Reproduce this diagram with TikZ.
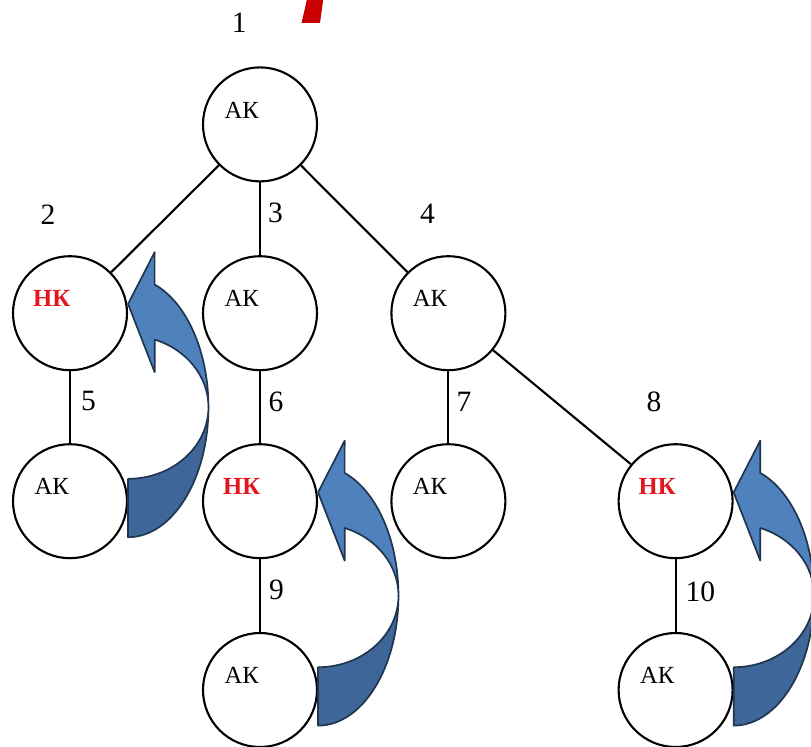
\documentclass[tikz,border=0pt]{standalone}
\usepackage{fontspec}
\setmainfont{Liberation Serif}
\usetikzlibrary{calc, positioning}
\definecolor{akblue}{HTML}{4F81BD}
\definecolor{akdark}{HTML}{3F6698}
\definecolor{akline}{HTML}{1F3550}
\definecolor{nkred}{HTML}{E3161E}
\definecolor{titlered}{HTML}{C80000}
\tikzstyle{kv}=[circle, draw, line width=1.5pt, minimum size=2.85cm, inner sep=0pt]
\tikzstyle{ak}=[kv, label={[xshift=-0.46cm, yshift=0.36cm, font=\fontsize{17.5}{20}\selectfont]center:АК}]
\tikzstyle{nk}=[kv, label={[xshift=-0.46cm, yshift=0.36cm, font=\fontsize{17.5}{20}\selectfont\bfseries, text=nkred]center:НК}]
\tikzstyle{num}=[font=\fontsize{21}{24}\selectfont, inner sep=0pt]
\tikzstyle{arrowdark}=[fill=akdark, draw=akline, line width=1.2pt, line join=round]
\tikzstyle{arrowlight}=[fill=akblue, draw=akline, line width=1.2pt, line join=round]

% curved arrow back up to the parent, #1 = centre of the arc
\newcommand{\backarrow}[1]{%
  \begin{scope}[shift={(#1)}]
    \filldraw[arrowdark] (0,-3.25) arc[start angle=-90, end angle=0, x radius=2.01, y radius=3.25]
      arc[start angle=0, end angle=-90, x radius=2.01, y radius=1.79] -- cycle;
    \filldraw[arrowlight] (2.01,0) arc[start angle=0, end angle=70.7, x radius=2.01, y radius=3.25]
      -- (0.665,3.875) -- (0,2.58) -- (0.665,0.875) -- (0.665,1.69)
      arc[start angle=70.7, end angle=0, x radius=2.01, y radius=1.79] -- cycle;
  \end{scope}}

\begin{document}
\begin{tikzpicture}
        \useasboundingbox (0,0) rectangle (20.275,-18.65);
        \clip (0,0) rectangle (20.275,-18.65);

        % piece of the title
        \fill[titlered] (7.67,0) -- (8.08,0) -- (8.0,-0.57) -- (7.54,-0.57) -- cycle;

		\node[ak] (n1) at (6.5,-3.11) {};
		\node[nk] (n2) at (1.75,-7.83) {};
		\node[ak] (n3) at (6.5,-7.83) {};
		\node[ak] (n4) at (11.21,-7.83) {};
		\node[ak] (n5) at (1.75,-12.53) {};
		\node[nk] (n6) at (6.5,-12.53) {};
		\node[ak] (n7) at (11.21,-12.53) {};
		\node[nk] (n8) at (16.89,-12.53) {};
		\node[ak] (n9) at (6.5,-17.25) {};
		\node[ak] (n10) at (16.89,-17.25) {};

		\foreach \from / \to in {n1/n2,n1/n3,n1/n4,n2/n5,n3/n6,n4/n7,n4/n8,n6/n9,n8/n10}
		\draw[line width=1.5pt] (\from) -- (\to);

		\foreach \n / \x / \y in {1/5.98/-0.58, 2/1.2/-5.38, 3/6.89/-5.33, 4/10.69/-5.35, 5/2.21/-10.03,
		    6/6.9/-10.05, 7/11.6/-10.05, 8/16.35/-10.05, 9/6.91/-14.74, 10/17.51/-14.8}
		\node[num] (t\n) at (\x,\y) {\n};

		\coordinate (c1) at ($(n2.east)!0.5!(n5.east)$);
		\coordinate (c2) at ($(n6.east)!0.5!(n9.east)$);
		\coordinate (c3) at ($(n8.east)!0.5!(n10.east)$);
		\foreach \c in {c1,c2,c3}
		\backarrow{\c};

	\end{tikzpicture}
\end{document}
